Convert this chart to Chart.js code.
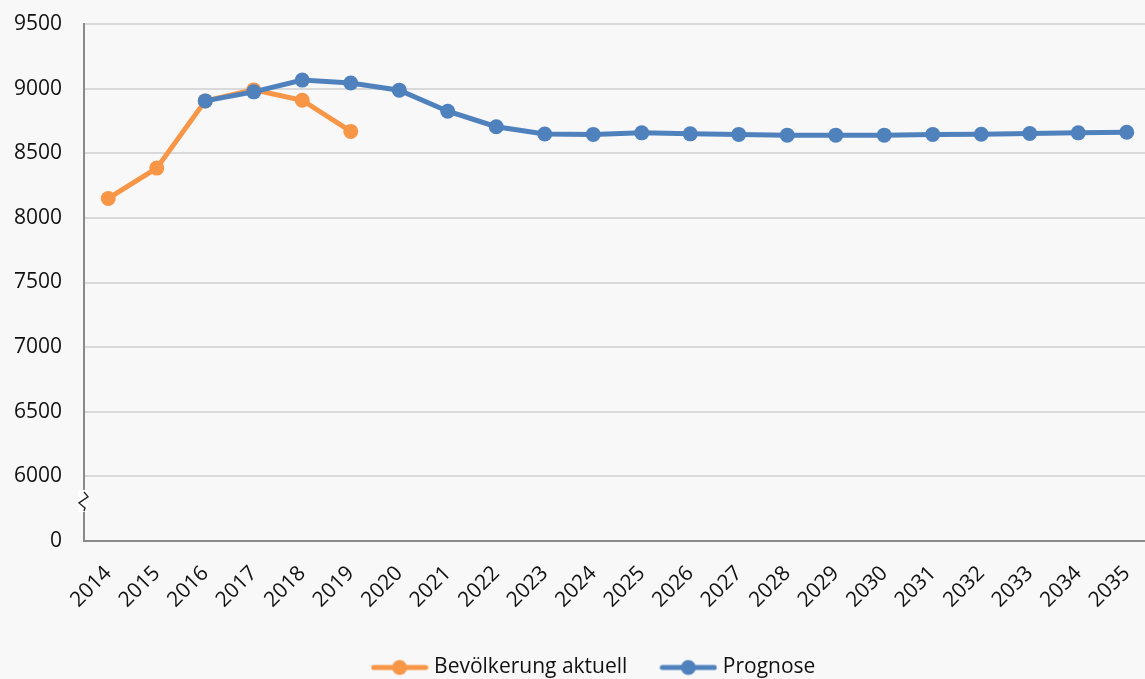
<!DOCTYPE html>
<html lang="de">
<head>
  <meta charset="UTF-8">
  <title>Bevölkerung Prognose</title>
  <script src="https://cdn.jsdelivr.net/npm/chart.js@4.4.0/dist/chart.umd.min.js"></script>
  <style>
    html, body { margin: 0; padding: 0; background: #f8f8f8; overflow: hidden; }
    #box { width: 1151px; height: 688px; position: relative; }
  </style>
</head>
<body>
  <div id="box"><canvas id="chart"></canvas></div>
  <script>
    const years = ['2014', '2015', '2016', '2017', '2018', '2019', '2020', '2021', '2022', '2023', '2024',
      '2025', '2026', '2027', '2028', '2029', '2030', '2031', '2032', '2033', '2034', '2035'];
    // Bevölkerung aktuell (bis 2019)
    const aktuell = [8150, 8385, 8905, 8990, 8910, 8669, null, null, null, null, null,
      null, null, null, null, null, null, null, null, null, null, null];
    // Prognose (ab 2016)
    const prognose = [null, null, 8905, 8975, 9066, 9043, 8988, 8825, 8705, 8649, 8646,
      8658, 8650, 8646, 8640, 8640, 8640, 8646, 8647, 8653, 8658, 8662];
    const yTicks = [5500, 6000, 6500, 7000, 7500, 8000, 8500, 9000, 9500];
    const yTickLabels = ['0', '6000', '6500', '7000', '7500', '8000', '8500', '9000', '9500'];

    const ORANGE = '#f79646', BLUE = '#4f81bd';
    const FONT = "'Open Sans', 'Liberation Sans', sans-serif";

    // kleines Legendensymbol: Linie mit Punkt
    function legendIcon(color) {
      const c = document.createElement('canvas');
      c.width = 58; c.height = 18;
      const ctx = c.getContext('2d');
      ctx.strokeStyle = color;
      ctx.lineWidth = 5;
      ctx.lineCap = 'round';
      ctx.beginPath(); ctx.moveTo(3, 9); ctx.lineTo(55, 9); ctx.stroke();
      ctx.fillStyle = color;
      ctx.beginPath(); ctx.arc(29, 9, 7.5, 0, Math.PI * 2); ctx.fill();
      return c;
    }

    // Achsenbruch-Zeichen an der y-Achse
    const axisBreak = {
      id: 'axisBreak',
      afterLayout(chart) {
        // Legende wie im Original etwas nach rechts
        chart.legend.left += 20;
        chart.legend.right += 20;
      },
      afterDraw(chart) {
        const ctx = chart.ctx, x = chart.chartArea.left;
        const y = chart.scales.y.getPixelForValue(5810);
        ctx.save();
        ctx.fillStyle = '#ffffff';
        ctx.fillRect(x - 6, y - 11, 10, 22);
        ctx.strokeStyle = '#222';
        ctx.lineWidth = 1.4;
        ctx.beginPath();
        ctx.moveTo(x, y - 9);
        ctx.lineTo(x + 4, y - 4);
        ctx.lineTo(x - 5, y + 2);
        ctx.lineTo(x + 1, y + 7);
        ctx.lineTo(x, y + 10);
        ctx.stroke();
        ctx.restore();
      }
    };

    new Chart(document.getElementById('chart'), {
      type: 'line',
      data: {
        labels: years,
        datasets: [{
          label: 'Bevölkerung aktuell',
          data: aktuell,
          borderColor: ORANGE,
          backgroundColor: ORANGE,
          borderWidth: 5,
          pointRadius: 7.5,
          pointHoverRadius: 7.5,
          pointBorderWidth: 0,
          order: 2
        }, {
          label: 'Prognose',
          data: prognose,
          borderColor: BLUE,
          backgroundColor: BLUE,
          borderWidth: 5,
          pointRadius: 7.5,
          pointHoverRadius: 7.5,
          pointBorderWidth: 0,
          order: 1
        }]
      },
      options: {
        responsive: true,
        maintainAspectRatio: false,
        animation: false,
        layout: { autoPadding: false, padding: { top: 24, right: 0, left: 0, bottom: 0 } },
        plugins: {
          tooltip: { enabled: false },
          legend: {
            position: 'bottom',
            labels: {
              usePointStyle: true,
              pointStyleWidth: 48,
              boxHeight: 18,
              padding: 37,
              color: '#111',
              font: { family: FONT, size: 21 },
              generateLabels(chart) {
                return chart.data.datasets.map((ds, i) => ({
                  text: ds.label,
                  pointStyle: legendIcon(ds.borderColor),
                  fillStyle: ds.borderColor,
                  strokeStyle: ds.borderColor,
                  lineWidth: 0,
                  fontColor: '#111',
                  datasetIndex: i
                }));
              }
            }
          }
        },
        scales: {
          x: {
            offset: true,
            grid: { display: false, drawTicks: false },
            border: { color: '#8a8a8a', width: 2 },
            ticks: {
              minRotation: 45,
              maxRotation: 45,
              padding: 20,
              color: '#111',
              font: { family: FONT, size: 21 }
            },
            afterFit(scale) {
              scale.height = 79;
              scale.paddingLeft = 0;
              scale.paddingRight = 0;
            }
          },
          y: {
            min: 5500,
            max: 9500,
            afterBuildTicks(scale) { scale.ticks = yTicks.map(v => ({ value: v })); },
            grid: {
              color: ctx => ctx.tick && ctx.tick.value === 5500 ? 'rgba(0,0,0,0)' : '#d9d9d9',
              lineWidth: 2,
              drawTicks: false
            },
            border: { color: '#8a8a8a', width: 2 },
            ticks: {
              padding: 22,
              color: '#111',
              font: { family: FONT, size: 21 },
              callback: function (value) {
                const i = yTicks.indexOf(value);
                return i >= 0 ? yTickLabels[i] : '';
              }
            },
            afterFit(scale) {
              scale.width = 84;
              scale.paddingTop = 0;
            }
          }
        }
      },
      plugins: [axisBreak]
    });
  </script>
</body>
</html>
